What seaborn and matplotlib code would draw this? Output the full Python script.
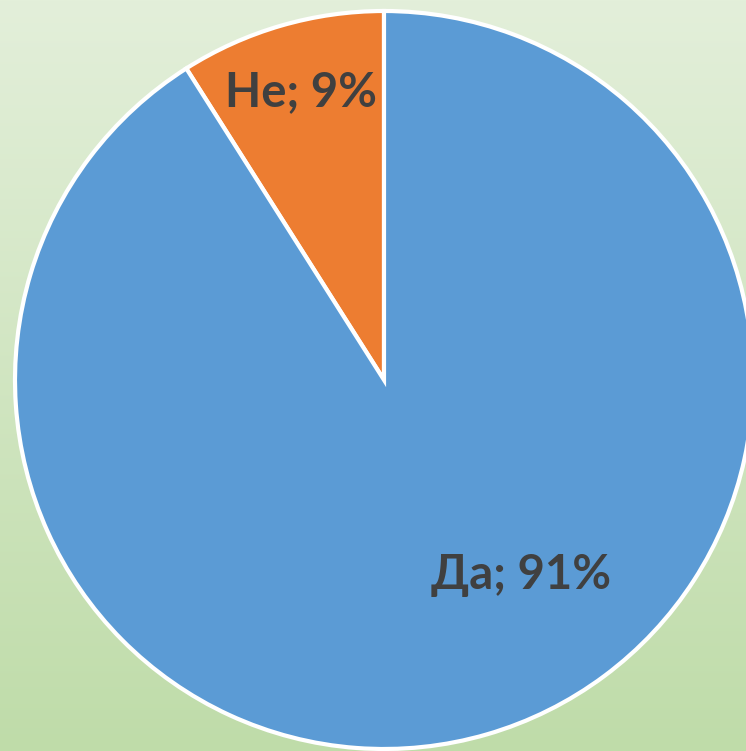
import matplotlib
matplotlib.use("Agg")
import matplotlib.pyplot as plt
import seaborn as sns
import numpy as np
from matplotlib.colors import LinearSegmentedColormap

# data
answers = ["Не", "Да"]
shares = [9, 91]
colors = ["#ED7D31", "#5B9BD5"]
label_pos = [(-0.225, 0.78), (0.371, -0.528)]

sns.set_theme(style="white")
plt.rcParams['font.family'] = ['Lato', 'DejaVu Sans']

W, H = 746, 751
cx, cy, r = 384, 380, 369
fig = plt.figure(figsize=(W / 100, H / 100), dpi=100)
ax = fig.add_axes([0, 0, 1, 1])
xlim = (-cx / r, (W - cx) / r)
ylim = (-(H - cy) / r, cy / r)

# green gradient background
grad = np.linspace(0, 1, 256).reshape(-1, 1)
cmap = LinearSegmentedColormap.from_list("bg", ["#E3EFDA", "#BFDCA9"])
ax.imshow(grad, extent=[xlim[0], xlim[1], ylim[0], ylim[1]], cmap=cmap,
          aspect='auto', origin='upper', zorder=0)

ax.pie(shares, colors=colors, startangle=90, counterclock=True, radius=1,
       wedgeprops=dict(edgecolor='white', linewidth=3, zorder=2))

for name, val, (x, y) in zip(answers, shares, label_pos):
    ax.text(x, y, f"{name}; {val}%", ha='center', va='center', fontsize=34,
            fontweight='bold', color='#404040', zorder=3)

ax.set_xlim(*xlim)
ax.set_ylim(*ylim)
ax.set_aspect('auto')
ax.axis('off')
fig.savefig("out.png", dpi=100)
